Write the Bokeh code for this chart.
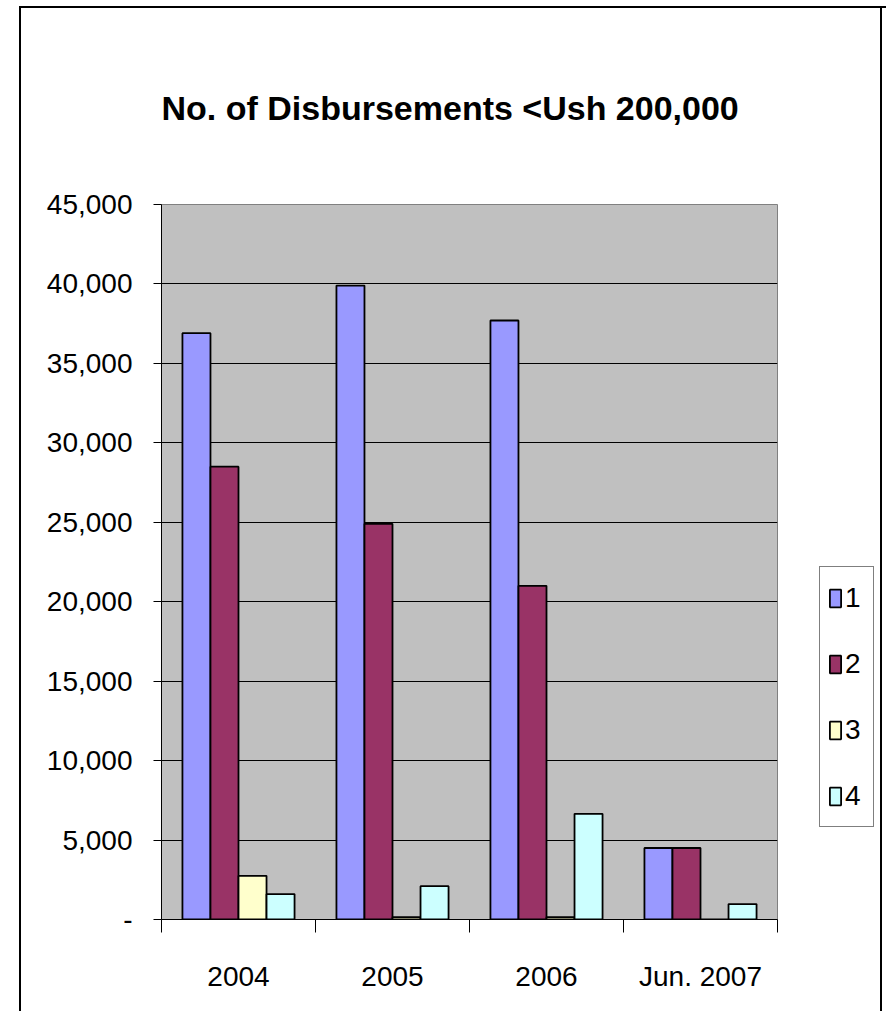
from bokeh.plotting import figure
from bokeh.models import Range1d, FixedTicker, NumeralTickFormatter, Legend, LegendItem, Div
from bokeh.embed import file_html
from bokeh.resources import INLINE

# Disbursement counts below Ush 200,000, by period and series
categories = ["2004", "2005", "2006", "Jun. 2007"]
series_names = ["1", "2", "3", "4"]
series_1 = [36900, 39900, 37700, 4500]
series_2 = [28500, 24900, 21000, 4500]
series_3 = [2750, 150, 150, 0]
series_4 = [1600, 2100, 6650, 970]
series_colors = ["#9999FF", "#993366", "#FFFFCC", "#CCFFFF"]
y_ticks = [0, 5000, 10000, 15000, 20000, 25000, 30000, 35000, 40000, 45000]
title_text = "No. of Disbursements  <Ush 200,000"

LABEL_FONT = "Liberation Sans"
TITLE_FONT = "Liberation Sans"

p = figure(
    frame_width=616, frame_height=715,
    x_range=Range1d(0, len(categories)), y_range=Range1d(0, 45000),
    output_backend="svg", toolbar_location=None,
    min_border_left=140, min_border_right=103,
    min_border_top=196, min_border_bottom=92,
)
p.margin = (6, 4, 0, 19)
p.styles = {
    "border-top": "2px solid black",
    "border-left": "2px solid black",
}

p.background_fill_color = "#C0C0C0"
p.border_fill_color = "white"
p.outline_line_color = "#808080"
p.outline_line_width = 1

# title above the plot area
p.title.text = title_text
p.title.text_font = TITLE_FONT
p.title.text_font_style = "bold"
p.title.text_font_size = "34px"
p.title.text_color = "black"
p.title.align = "left"
p.title.standoff = 155

# grouped bars: four series side by side inside each period slot
bar_w = 0.182
all_series = [series_1, series_2, series_3, series_4]
renderers = []
for k, vals in enumerate(all_series):
    off = (k - 1.5) * bar_w
    xs = [i + 0.5 + off for i in range(len(categories))]
    r = p.vbar(x=xs, top=vals, width=bar_w, bottom=0,
               fill_color=series_colors[k], line_color="black", line_width=1.8)
    renderers.append(r)

# x axis: labels at slot centres, tick marks at slot boundaries
p.xaxis.ticker = FixedTicker(ticks=[i + 0.5 for i in range(len(categories))],
                             minor_ticks=list(range(len(categories) + 1)))
p.xaxis.major_label_overrides = {i + 0.5: c for i, c in enumerate(categories)}
p.xaxis.major_tick_line_color = None
p.xaxis.major_tick_out = 0
p.xaxis.major_tick_in = 0
p.xaxis.minor_tick_line_color = "black"
p.xaxis.minor_tick_out = 13
p.xaxis.minor_tick_in = 0
p.xaxis.axis_line_color = "black"
p.xaxis.major_label_text_font = LABEL_FONT
p.xaxis.major_label_text_font_size = "28px"
p.xaxis.major_label_text_color = "black"
p.xaxis.major_label_standoff = 28

# y axis
p.yaxis.ticker = FixedTicker(ticks=y_ticks)
p.yaxis.formatter = NumeralTickFormatter(format="0,0")
p.yaxis.major_label_overrides = {0: "-"}
p.yaxis.axis_line_color = "black"
p.yaxis.major_tick_line_color = "black"
p.yaxis.major_tick_out = 8
p.yaxis.major_tick_in = 0
p.yaxis.minor_tick_line_color = None
p.yaxis.major_label_text_font = LABEL_FONT
p.yaxis.major_label_text_font_size = "28px"
p.yaxis.major_label_text_color = "black"
p.yaxis.major_label_standoff = 21

p.xgrid.visible = False
p.ygrid.ticker = FixedTicker(ticks=y_ticks)
p.ygrid.grid_line_color = "black"
p.ygrid.grid_line_width = 1

legend = Legend(
    items=[LegendItem(label=n, renderers=[r]) for n, r in zip(series_names, renderers)],
    location=(42, 92),
    orientation="vertical",
    glyph_width=14, glyph_height=22,
    label_text_font=LABEL_FONT, label_text_font_size="28px",
    label_text_color="black",
    label_standoff=3, label_height=45,
    spacing=21, padding=8, margin=0,
    border_line_color="black", border_line_width=1,
    background_fill_color="white", background_fill_alpha=1,
)
p.add_layout(legend, "right")

# right-hand edge of the chart sheet
sheet_edge = Div(
    text="", width=2, height=1005, margin=0,
    styles={
        "position": "fixed", "left": "880px", "top": "6px",
        "width": "2px", "height": "1005px",
        "background-color": "black", "z-index": "10",
        "pointer-events": "none",
    },
)

open("out.html", "w").write(file_html([p, sheet_edge], INLINE))
